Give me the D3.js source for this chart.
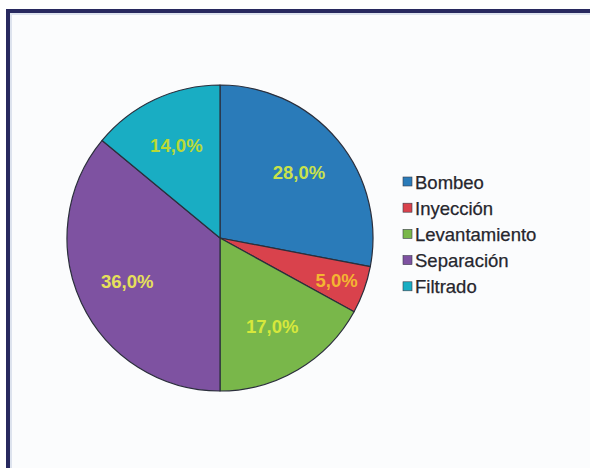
<!DOCTYPE html>
<html>
<head>
<meta charset="utf-8">
<title>Distribución</title>
<script src="https://d3js.org/d3.v7.min.js"></script>
<style>
  body { margin: 0; background: #ffffff; }
  svg { display: block; }
</style>
</head>
<body>
<svg id="chart" width="590" height="468"></svg>
<script>
// data
const categories = ["Bombeo", "Inyección", "Levantamiento", "Separación", "Filtrado"];
const values = [28.0, 5.0, 17.0, 36.0, 14.0];
const sliceColors = ["#2a7bb9", "#d9424c", "#79b74a", "#7e52a1", "#19adc3"];
const labelColors = ["#c9e24c", "#f4b532", "#d6e83c", "#e6e05a", "#b9d936"];

const svg = d3.select('#chart');
const W = 590, H = 468;

// frame: navy band on the top and left edges, pale panel inside
svg.append('rect').attr('x', 6).attr('y', 9).attr('width', W - 6).attr('height', H - 9)
    .attr('fill', '#28295f');
svg.append('rect').attr('x', 10).attr('y', 13).attr('width', W - 10).attr('height', H - 13)
    .attr('fill', '#dde3ee');
svg.append('rect').attr('x', 12).attr('y', 15).attr('width', W - 12).attr('height', H - 15)
    .attr('fill', '#fbfcfd');

const cx = 220, cy = 238, R = 153;

const pie = d3.pie().sort(null).value(d => d.value);
const arcs = pie(categories.map((c, i) => ({ name: c, value: values[i], i })));

const arc = d3.arc().innerRadius(0).outerRadius(R);

const pieG = svg.append('g').attr('transform', `translate(${cx},${cy})`);

pieG.selectAll('path.slice')
    .data(arcs)
    .join('path')
    .attr('class', 'slice')
    .attr('d', arc)
    .attr('fill', d => sliceColors[d.data.i])
    .attr('stroke', '#2b2f3c')
    .attr('stroke-width', 1.2)
    .attr('stroke-linejoin', 'round');

// labels: narrow slices get pushed further out
const labelR = d => (d.data.value < 10 ? 0.81 : 0.67) * R;
pieG.selectAll('text.pct')
    .data(arcs)
    .join('text')
    .attr('class', 'pct')
    .attr('transform', d => {
        const r = labelR(d);
        const c = d3.arc().innerRadius(r).outerRadius(r).centroid(d);
        return `translate(${c[0]},${c[1]})`;
    })
    .attr('text-anchor', 'middle')
    .attr('dy', '0.36em')
    .attr('font-family', 'Liberation Sans, Arial, sans-serif')
    .attr('font-weight', 'bold')
    .attr('font-size', 18.5)
    .attr('fill', d => labelColors[d.data.i])
    .text(d => d3.format('.1f')(d.data.value).replace('.', ',') + '%');

// legend
const legendG = svg.append('g').attr('transform', 'translate(403,182)');
const rowH = 26.2;
const item = legendG.selectAll('g.item')
    .data(categories)
    .join('g')
    .attr('class', 'item')
    .attr('transform', (d, i) => `translate(0,${i * rowH})`);

item.append('rect')
    .attr('x', 0).attr('y', -5)
    .attr('width', 9).attr('height', 9)
    .attr('fill', (d, i) => sliceColors[i])
    .attr('stroke', '#3a3d4a')
    .attr('stroke-width', 0.6);

item.append('text')
    .attr('x', 12)
    .attr('y', 0)
    .attr('dy', '0.36em')
    .attr('font-family', 'Liberation Sans, Arial, sans-serif')
    .attr('font-size', 18.5)
    .attr('fill', '#26262d')
    .attr('stroke', '#26262d')
    .attr('stroke-width', 0.25)
    .text(d => d);
</script>
</body>
</html>
